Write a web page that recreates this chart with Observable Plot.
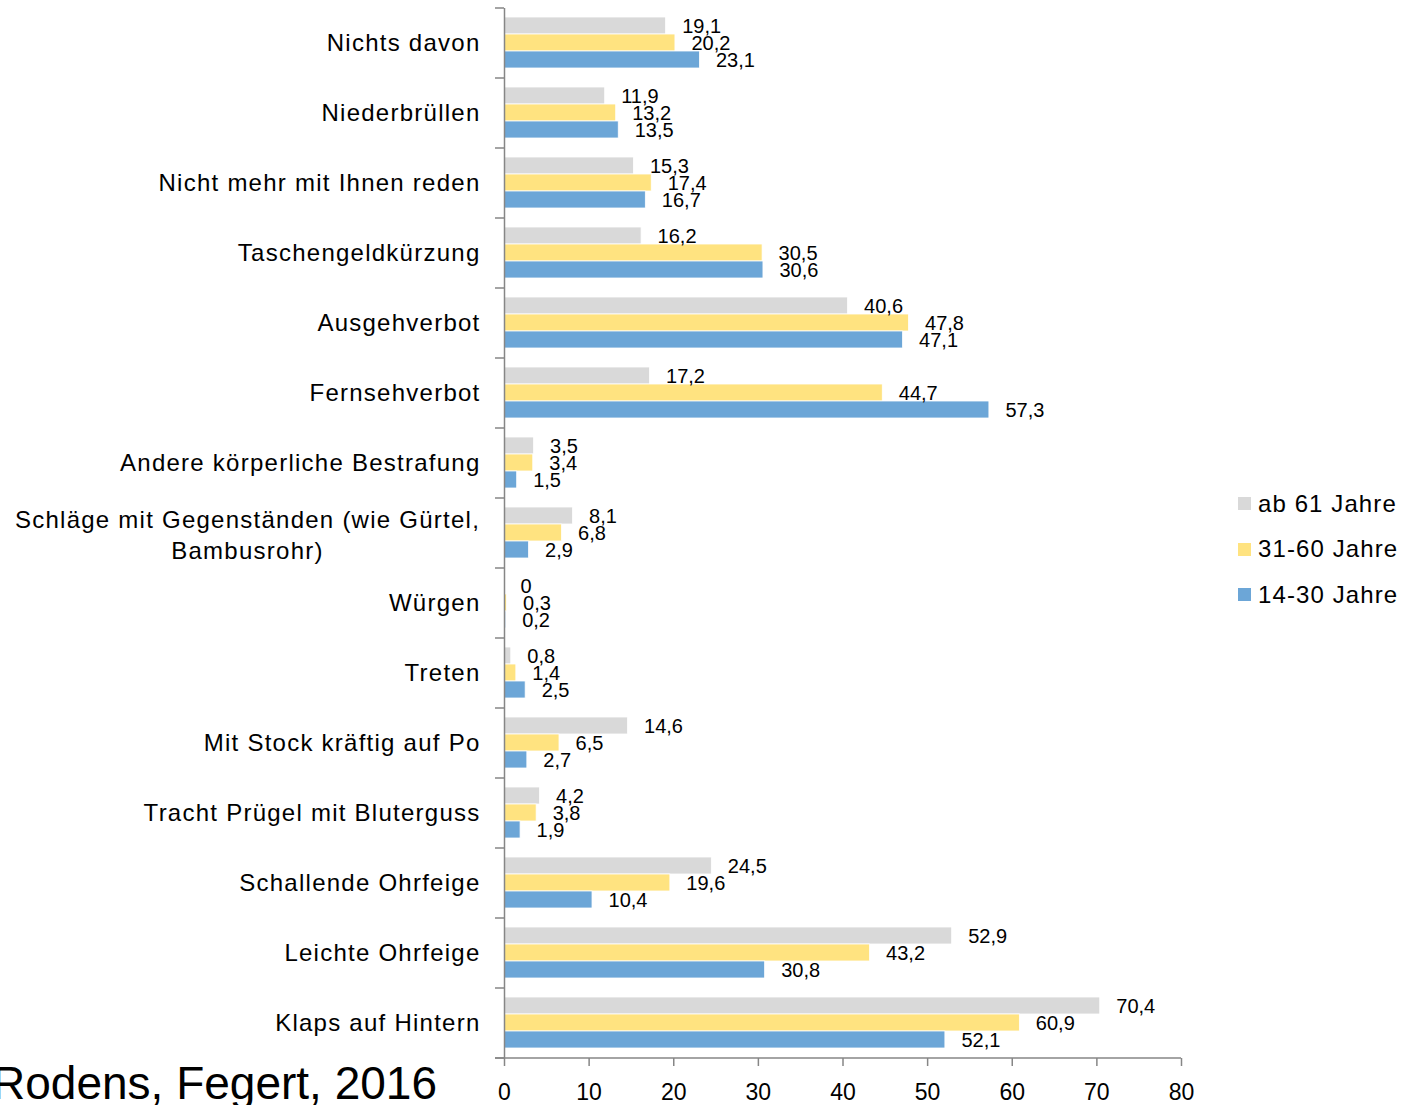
<!DOCTYPE html>
<html><head><meta charset="utf-8">
<script src="https://cdn.jsdelivr.net/npm/d3@7"></script>
<script src="https://cdn.jsdelivr.net/npm/@observablehq/plot@0.6"></script>
<style>
body{margin:0;background:#fff;font-family:"Liberation Sans",Arial,sans-serif;color:#000;}
#wrap{position:relative;width:1403px;height:1105px;overflow:hidden;}
#chart svg{display:block;font-family:"Liberation Sans",Arial,sans-serif;}
g[aria-label="fy-axis tick label"] text{letter-spacing:1.25px;}
text[aria-label="cat label"], text[aria-label="cat label"] tspan{letter-spacing:1.25px;}
#legend{position:absolute;left:1238px;top:481px;font-size:24px;letter-spacing:1.1px;}
.item{display:flex;align-items:center;height:45.5px;white-space:nowrap;}
.sw{width:13px;height:13px;margin-right:7px;flex:none;}
#caption{position:absolute;right:966px;top:1060px;font-size:46px;line-height:46px;white-space:nowrap;}
</style></head><body>
<div id="wrap"><div id="chart"></div><div id="legend"></div><div id="caption">Rodens, Fegert, 2016</div></div>
<script>
const categories = [
  "Nichts davon",
  "Niederbrüllen",
  "Nicht mehr mit Ihnen reden",
  "Taschengeldkürzung",
  "Ausgehverbot",
  "Fernsehverbot",
  "Andere körperliche Bestrafung",
  "Schläge mit Gegenständen (wie Gürtel,\nBambusrohr)",
  "Würgen",
  "Treten",
  "Mit Stock kräftig auf Po",
  "Tracht Prügel mit Bluterguss",
  "Schallende Ohrfeige",
  "Leichte Ohrfeige",
  "Klaps auf Hintern"
];
const seriesNames = ["ab 61 Jahre", "31-60 Jahre", "14-30 Jahre"];
const seriesColors = ["#D9D9D9", "#FFE380", "#6CA6D7"];
const ab61 = [19.1, 11.9, 15.3, 16.2, 40.6, 17.2, 3.5, 8.1, 0, 0.8, 14.6, 4.2, 24.5, 52.9, 70.4];
const j31_60 = [20.2, 13.2, 17.4, 30.5, 47.8, 44.7, 3.4, 6.8, 0.3, 1.4, 6.5, 3.8, 19.6, 43.2, 60.9];
const j14_30 = [23.1, 13.5, 16.7, 30.6, 47.1, 57.3, 1.5, 2.9, 0.2, 2.5, 2.7, 1.9, 10.4, 30.8, 52.1];
const xTicks = [0, 10, 20, 30, 40, 50, 60, 70, 80];

const seriesValues = [ab61, j31_60, j14_30];
const data = [];
categories.forEach((c, i) => seriesNames.forEach((s, j) => data.push({category: c, series: s, value: seriesValues[j][i]})));

const singleLine = categories.filter(c => !c.includes("\n"));
const multiLine = categories.filter(c => c.includes("\n"));
const axisColor = "#868686";

const chart = Plot.plot({
  width: 1403,
  height: 1105,
  marginLeft: 504,
  marginRight: 222,
  marginTop: 8,
  marginBottom: 47,
  facet: {marginTop: 0, marginBottom: 0, marginLeft: 0, marginRight: 0},
  style: {fontFamily: '"Liberation Sans", Arial, sans-serif', color: "#000", background: "#fff"},
  x: {domain: [0, 80], label: null},
  y: {domain: seriesNames, paddingInner: 0, paddingOuter: 0.5, align: 0.45, axis: null, label: null},
  fy: {domain: categories, padding: 0, label: null},
  color: {domain: seriesNames, range: seriesColors},
  marks: [
    Plot.barX(data, {x: "value", y: "series", fy: "category", fill: "series", stroke: "white", strokeWidth: 0.8}),
    Plot.text(data, {x: "value", y: "series", fy: "category", text: d => String(d.value).replace(".", ","), textAnchor: "start", dx: 16, dy: 1, fontSize: 20, fill: "#000"}),
    Plot.ruleX([0], {stroke: axisColor, strokeWidth: 1.5}),
    Plot.axisX({ticks: xTicks, tickSize: 8, tickPadding: 17, fontSize: 23, stroke: axisColor, strokeWidth: 1.5, label: null}),
    Plot.axisFy({anchor: "left", ticks: singleLine, tickSize: 0, tickPadding: 24, fontSize: 24, label: null}),
    Plot.text(multiLine, {fy: d => d, text: d => d, frameAnchor: "left", textAnchor: "middle", dx: -257, fontSize: 24, lineHeight: 1.3, fill: "#000", ariaLabel: () => "cat label"})
  ]
});

// category boundary ticks and bottom axis line, from Plot's own scales
const fyS = chart.scale("fy");
const band = d3.scaleBand().domain(fyS.domain).range(fyS.range).paddingInner(0).paddingOuter(0);
const xS = chart.scale("x");
const xLeft = xS.range[0], xRight = xS.range[1];
const g = d3.select(chart).append("g").attr("stroke", axisColor).attr("stroke-width", 1.5);
const bounds = fyS.domain.map(c => band(c)).concat([band(fyS.domain[fyS.domain.length - 1]) + band.bandwidth()]);
bounds.forEach(y => g.append("line").attr("x1", xLeft - 9).attr("x2", xLeft).attr("y1", y).attr("y2", y));
g.append("line").attr("x1", xLeft - 9).attr("x2", xRight).attr("y1", bounds[bounds.length - 1]).attr("y2", bounds[bounds.length - 1]);

// letter spacing for the wrapped category label
d3.select(chart).selectAll("text").filter(function() { return this.textContent.includes("Bambusrohr"); })
  .style("letter-spacing", "1.25px");

document.getElementById("chart").appendChild(chart);

const legend = d3.select("#legend");
seriesNames.forEach((s, i) => {
  const it = legend.append("div").attr("class", "item");
  it.append("div").attr("class", "sw").style("background", seriesColors[i]);
  it.append("span").text(s);
});
</script>
</body></html>
